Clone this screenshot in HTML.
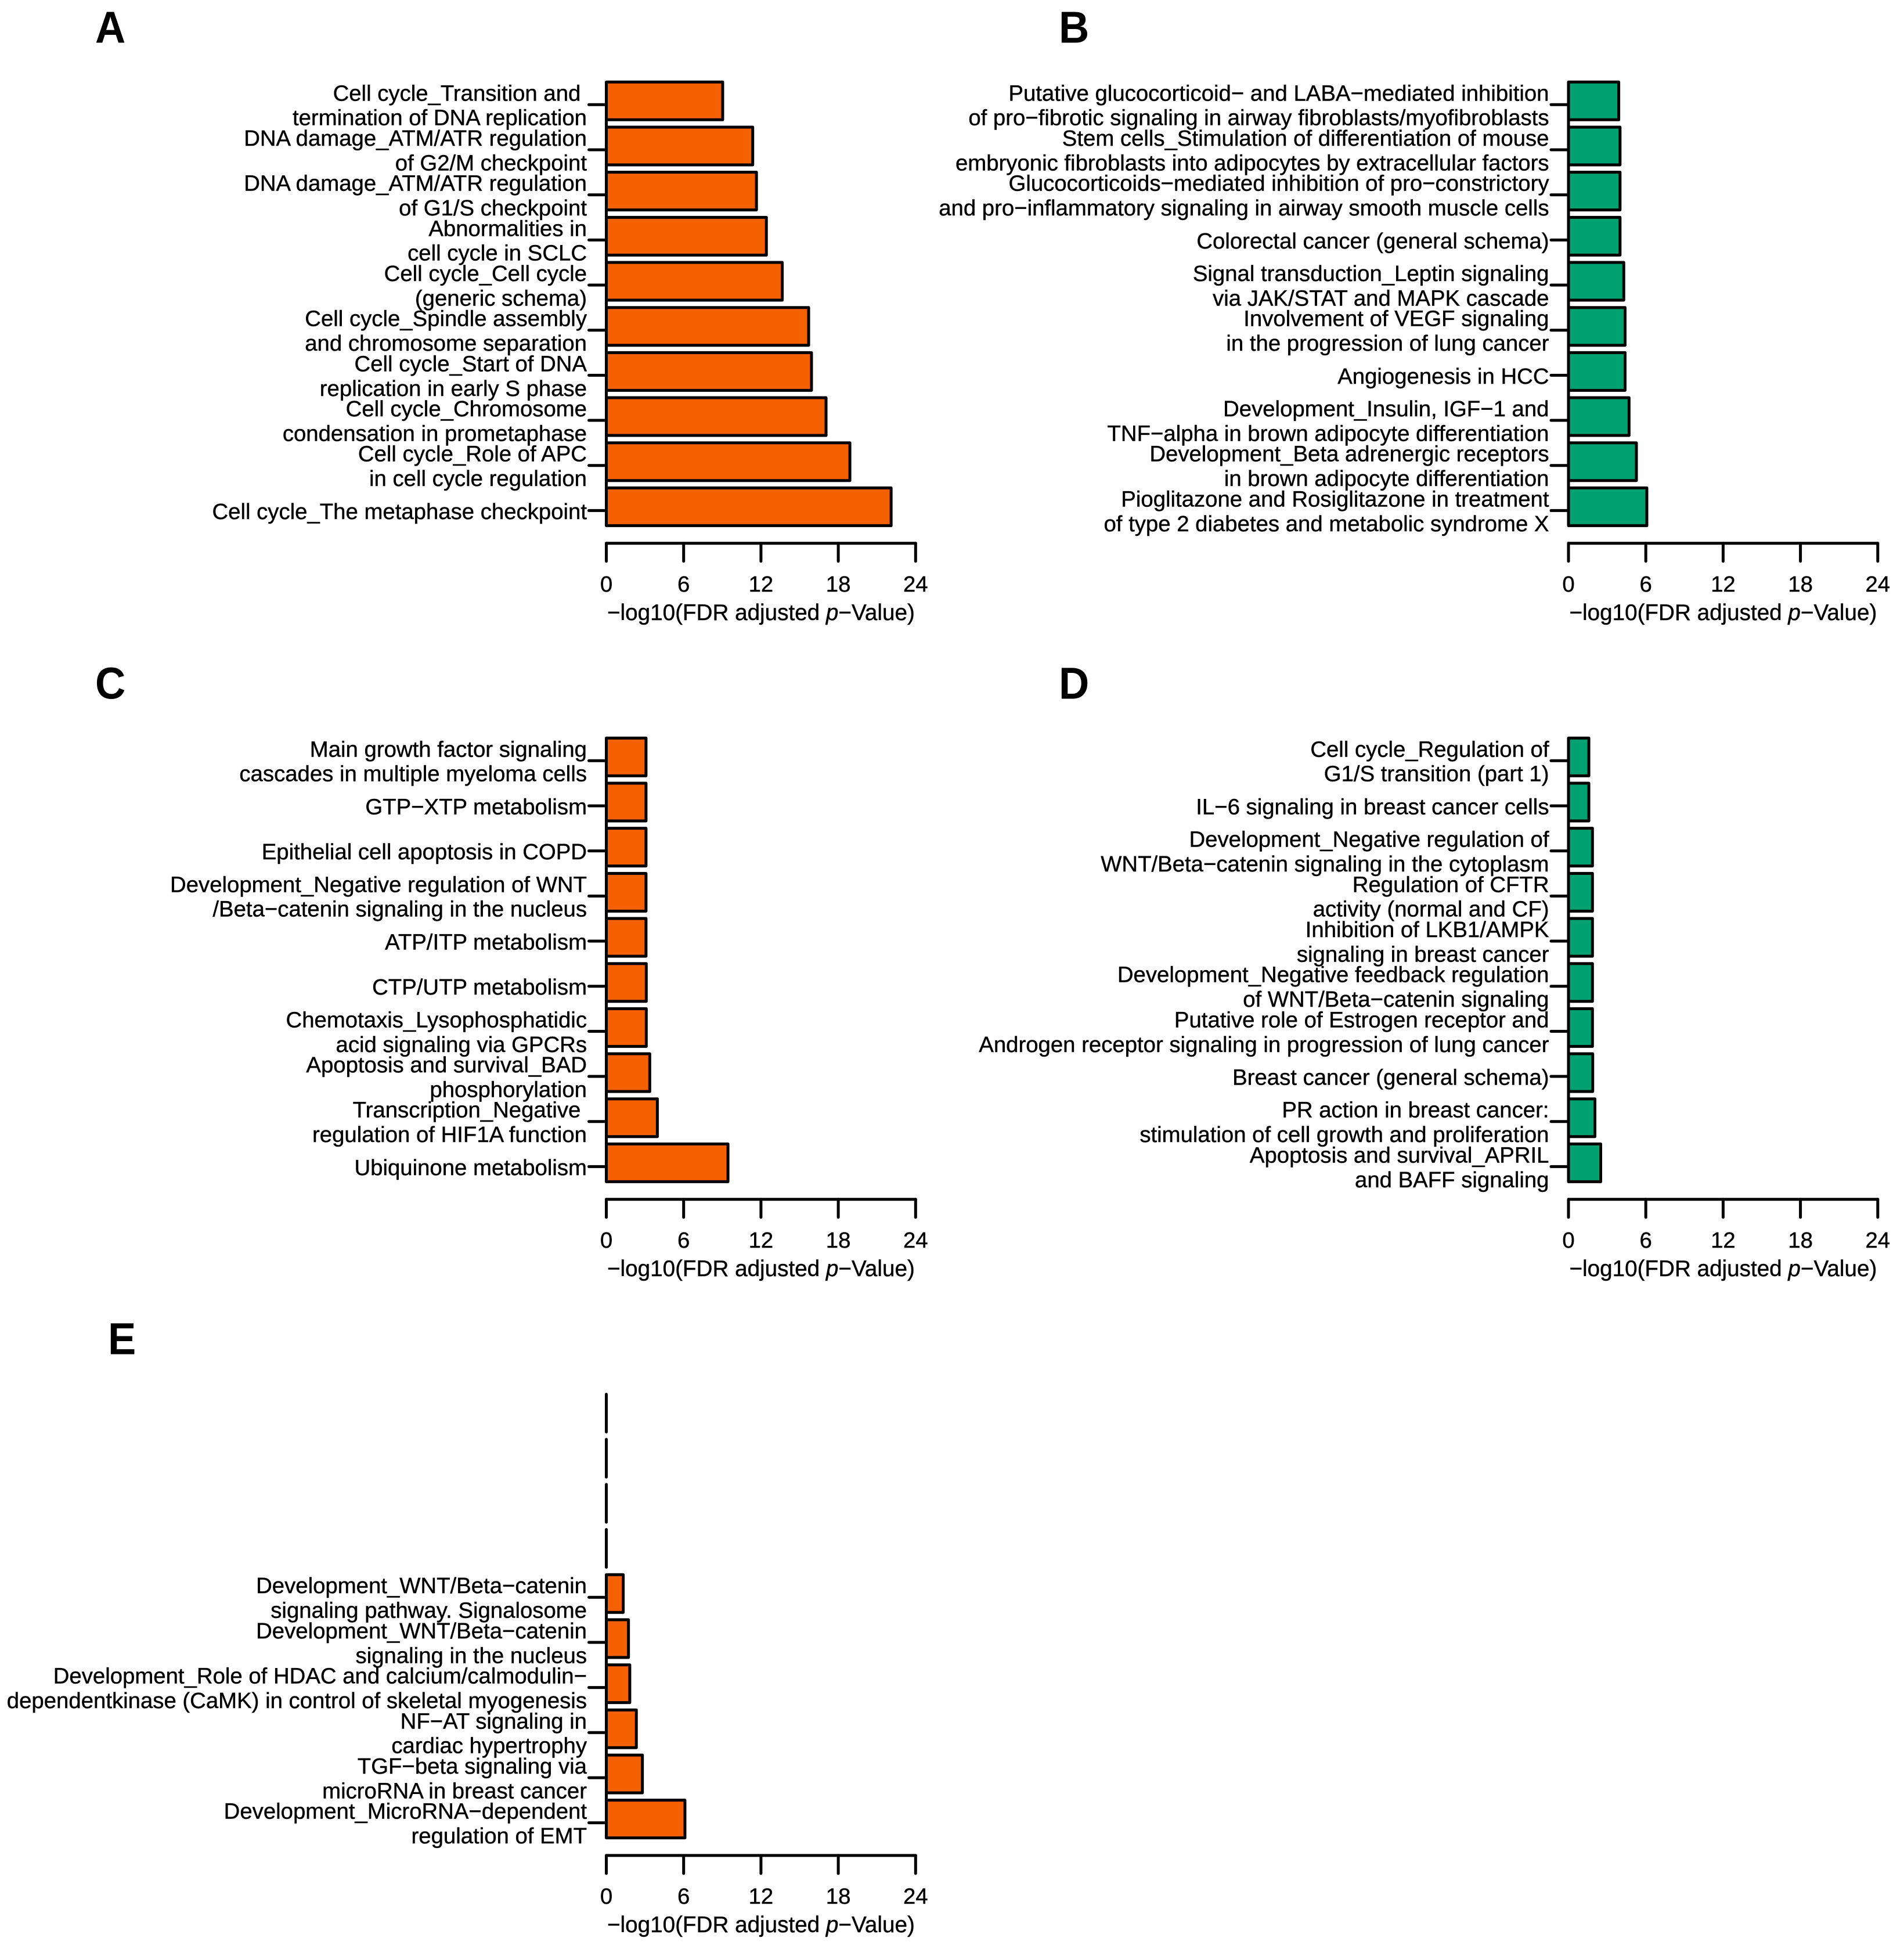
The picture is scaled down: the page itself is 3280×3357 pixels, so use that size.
<!DOCTYPE html>
<html lang="en">
<head>
<meta charset="utf-8">
<title>Pathway enrichment bar charts</title>
<style>
  html, body { margin: 0; padding: 0; background: #fff; }
  #figure { display: block; width: 3280px; height: 3357px; background: #fff; }
  text { font-family: "Liberation Sans", Arial, sans-serif; fill: #000; white-space: pre; }
  .lab { font-size: 38.35px; text-anchor: end; stroke: #000; stroke-width: 0.45px; }
  .tick { font-size: 38.35px; text-anchor: middle; stroke: #000; stroke-width: 0.45px; }
  .ttl { font-size: 38.65px; text-anchor: middle; stroke: #000; stroke-width: 0.45px; }
  .letter { font-size: 77px; font-weight: bold; }
</style>
</head>
<body>
<svg id="figure" xmlns="http://www.w3.org/2000/svg" width="3280" height="3357" viewBox="0 0 3280 3357"></svg>
<script>
const axisTicks = [0, 6, 12, 18, 24];

const panelACategories = [
  "Cell cycle_Transition and \ntermination of DNA replication",
  "DNA damage_ATM/ATR regulation\nof G2/M checkpoint",
  "DNA damage_ATM/ATR regulation\nof G1/S checkpoint",
  "Abnormalities in\ncell cycle in SCLC",
  "Cell cycle_Cell cycle\n(generic schema)",
  "Cell cycle_Spindle assembly\nand chromosome separation",
  "Cell cycle_Start of DNA\nreplication in early S phase",
  "Cell cycle_Chromosome\ncondensation in prometaphase",
  "Cell cycle_Role of APC\nin cell cycle regulation",
  "Cell cycle_The metaphase checkpoint"
];
const panelAValues = [9.03, 11.36, 11.65, 12.42, 13.65, 15.7, 15.92, 17.05, 18.9, 22.1];

const panelBCategories = [
  "Putative glucocorticoid− and LABA−mediated inhibition\nof pro−fibrotic signaling in airway fibroblasts/myofibroblasts",
  "Stem cells_Stimulation of differentiation of mouse\nembryonic fibroblasts into adipocytes by extracellular factors",
  "Glucocorticoids−mediated inhibition of pro−constrictory\nand pro−inflammatory signaling in airway smooth muscle cells",
  "Colorectal cancer (general schema)",
  "Signal transduction_Leptin signaling\nvia JAK/STAT and MAPK cascade",
  "Involvement of VEGF signaling\nin the progression of lung cancer",
  "Angiogenesis in HCC",
  "Development_Insulin, IGF−1 and\nTNF−alpha in brown adipocyte differentiation",
  "Development_Beta adrenergic receptors\nin brown adipocyte differentiation",
  "Pioglitazone and Rosiglitazone in treatment\nof type 2 diabetes and metabolic syndrome X"
];
const panelBValues = [3.9, 4.0, 4.0, 4.0, 4.29, 4.39, 4.39, 4.7, 5.27, 6.08];

const panelCCategories = [
  "Main growth factor signaling\ncascades in multiple myeloma cells",
  "GTP−XTP metabolism",
  "Epithelial cell apoptosis in COPD",
  "Development_Negative regulation of WNT\n/Beta−catenin signaling in the nucleus",
  "ATP/ITP metabolism",
  "CTP/UTP metabolism",
  "Chemotaxis_Lysophosphatidic\nacid signaling via GPCRs",
  "Apoptosis and survival_BAD\nphosphorylation",
  "Transcription_Negative \nregulation of HIF1A function",
  "Ubiquinone metabolism"
];
const panelCValues = [3.08, 3.08, 3.08, 3.08, 3.08, 3.1, 3.1, 3.37, 3.96, 9.44];

const panelDCategories = [
  "Cell cycle_Regulation of\nG1/S transition (part 1)",
  "IL−6 signaling in breast cancer cells",
  "Development_Negative regulation of\nWNT/Beta−catenin signaling in the cytoplasm",
  "Regulation of CFTR\nactivity (normal and CF)",
  "Inhibition of LKB1/AMPK\nsignaling in breast cancer",
  "Development_Negative feedback regulation\nof WNT/Beta−catenin signaling",
  "Putative role of Estrogen receptor and\nAndrogen receptor signaling in progression of lung cancer",
  "Breast cancer (general schema)",
  "PR action in breast cancer:\nstimulation of cell growth and proliferation",
  "Apoptosis and survival_APRIL\nand BAFF signaling"
];
const panelDValues = [1.58, 1.58, 1.86, 1.86, 1.86, 1.86, 1.86, 1.88, 2.05, 2.5];

const panelECategories = [
  "", "", "", "",
  "Development_WNT/Beta−catenin\nsignaling pathway. Signalosome",
  "Development_WNT/Beta−catenin\nsignaling in the nucleus",
  "Development_Role of HDAC and calcium/calmodulin−\ndependentkinase (CaMK) in control of skeletal myogenesis",
  "NF−AT signaling in\ncardiac hypertrophy",
  "TGF−beta signaling via\nmicroRNA in breast cancer",
  "Development_MicroRNA−dependent\nregulation of EMT"
];
const panelEValues = [0, 0, 0, 0, 1.31, 1.72, 1.82, 2.33, 2.8, 6.1];

const ORANGE = "#f56000";
const GREEN = "#00a170";
const SVG_NS = "http://www.w3.org/2000/svg";
const root = document.getElementById("figure");

function make(tag, parent, attrs) {
  const el = document.createElementNS(SVG_NS, tag);
  for (const k in attrs) el.setAttribute(k, attrs[k]);
  parent.appendChild(el);
  return el;
}

function drawPanel(id, categories, values, color, originX, originY) {
  const UNIT = 22.2, PITCH = 77.68, BAR_H = 65, SW = 5;
  const xScale = v => originX + v * UNIT;
  const barTop = i => originY + i * PITCH;
  const tickY = i => barTop(i) + 39;
  const g = make("g", root, {});
  
  

  // y axis line spans first to last labelled category
  const labelled = categories.map((c, i) => c ? i : -1).filter(i => i >= 0);
  const yAxis = make("line", g, {
    x1: originX, x2: originX,
    y1: tickY(labelled[0]), y2: tickY(labelled[labelled.length - 1]),
    stroke: "#000", "stroke-width": SW, "stroke-linecap": "round"
  });
  
  

  values.forEach((v, i) => {
    const x1 = xScale(0), x2 = xScale(v), y1 = barTop(i), y2 = y1 + BAR_H;
    const bar = make("path", g, {
      d: "M" + x1 + " " + y1 + "H" + x2 + "V" + y2 + "H" + x1 + "Z",
      fill: color, stroke: "#000", "stroke-width": SW, "stroke-linejoin": "round"
    });
    
    

    if (!categories[i]) return;
    const t = make("line", g, {
      x1: originX - 30, x2: originX, y1: tickY(i), y2: tickY(i),
      stroke: "#000", "stroke-width": SW, "stroke-linecap": "round"
    });
    
    

    const lines = categories[i].split("\n");
    const offsets = lines.length === 2 ? [-7, 35.4] : [14.5];
    lines.forEach((line, n) => {
      const txt = make("text", g, { class: "lab", x: originX - 33.5, y: tickY(i) + offsets[n] });
      
      
      txt.textContent = line;
    });
  });

  const axisY = originY + 794.4;
  const xAxis = make("line", g, {
    x1: xScale(axisTicks[0]), x2: xScale(axisTicks[axisTicks.length - 1]), y1: axisY, y2: axisY,
    stroke: "#000", "stroke-width": SW, "stroke-linecap": "round"
  });
  
  

  axisTicks.forEach(tv => {
    const tk = make("line", g, {
      x1: xScale(tv), x2: xScale(tv), y1: axisY, y2: axisY + 31,
      stroke: "#000", "stroke-width": SW, "stroke-linecap": "round"
    });
    
    
    const lb = make("text", g, { class: "tick", x: xScale(tv), y: axisY + 83.3 });
    
    
    lb.textContent = String(tv);
  });

  const title = make("text", g, { class: "ttl", x: xScale(12), y: axisY + 132.3 });
  
  
  title.appendChild(document.createTextNode("−log10(FDR adjusted "));
  const it = make("tspan", title, { "font-style": "italic" });
  it.textContent = "p";
  title.appendChild(document.createTextNode("−Value)"));
}

function drawLetter(letter, x, y) {
  const t = make("text", root, { class: "letter", x: 0, y: 0, transform: "translate(" + x + " " + y + ") scale(0.94 1)" });
  
  
  t.textContent = letter;
}

drawPanel("a", panelACategories, panelAValues, ORANGE, 1044.5, 141.3);
drawPanel("b", panelBCategories, panelBValues, GREEN, 2702, 141.3);
drawPanel("c", panelCCategories, panelCValues, ORANGE, 1044.5, 1271.3);
drawPanel("d", panelDCategories, panelDValues, GREEN, 2702, 1271.3);
drawPanel("e", panelECategories, panelEValues, ORANGE, 1044.5, 2401.5);

drawLetter("A", 164, 73.7);
drawLetter("B", 1824, 73.7);
drawLetter("C", 164, 1203.7);
drawLetter("D", 1824, 1203.7);
drawLetter("E", 186, 2332.5);
</script>
</body>
</html>
